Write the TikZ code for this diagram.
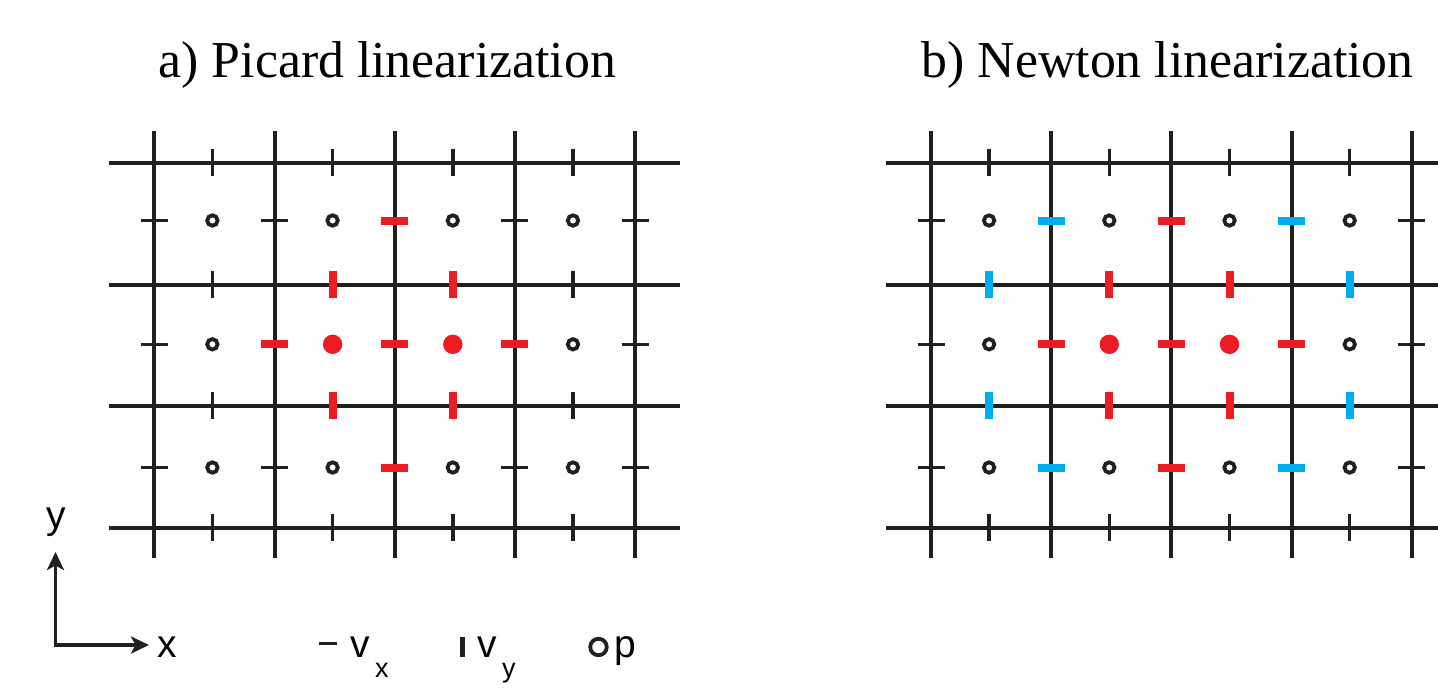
\documentclass[tikz,border=0pt]{standalone}
\usepackage{fontspec}
\setmainfont{Liberation Serif}
\newfontfamily\legfont{Liberation Sans}
\usetikzlibrary{arrows.meta}
\definecolor{ink}{HTML}{231F20}
\definecolor{hotred}{HTML}{ED1C24}
\definecolor{skyblue}{HTML}{00AEEF}
\begin{document}
\begin{tikzpicture}[x=1pt,y=-1pt,
  gridline/.style={ink,line width=4pt},
  tick-k/.style={ink,line width=3.4pt},
  tick-r/.style={hotred,line width=8pt},
  tick-b/.style={skyblue,line width=8pt},
  pk/.style={ink,line width=3.8pt},
  pr/.style={hotred,fill=hotred},
  title/.style={anchor=base west,inner sep=0pt,font=\fontsize{51.8}{60}\selectfont},
  leg/.style={anchor=base west,inner sep=0pt,font=\legfont\fontsize{39}{44}\selectfont},
  legsub/.style={anchor=base west,inner sep=0pt,font=\legfont\fontsize{27}{32}\selectfont},
  axis/.style={ink,line width=3.2pt,{Stealth[length=18pt,width=17pt,inset=4.5pt]}-{Stealth[length=18pt,width=17pt,inset=4.5pt]}}
]
\useasboundingbox (0,0) rectangle (1438,694);
\fill[white] (0,0) rectangle (1438,694);

% titles
\node[title] (ta) at (158.5,77) {a) Picard linearization};
\node[title] (tb) at (921.5,77) {b) Newton linearization};

% ---------- panel a ----------
\begin{scope}
\foreach \j in {0,...,3} {
  \pgfmathsetmacro\yy{162.7+121.8*\j}
  \draw[gridline] (109.3,\yy) -- (680,\yy);
}
\foreach \i in {0,...,4} {
  \pgfmathsetmacro\xx{154.3+120.2*\i}
  \draw[gridline] (\xx,131) -- (\xx,558);
}
% v_x markers
\foreach \i/\r/\c in {0/0/k,1/0/k,2/0/r,3/0/k,4/0/k,
                      0/1/k,1/1/r,2/1/r,3/1/r,4/1/k,
                      0/2/k,1/2/k,2/2/r,3/2/k,4/2/k} {
  \pgfmathsetmacro\xx{154.3+120.2*\i}
  \pgfmathsetmacro\yy{{220.5,344.3,467.5}[\r]}
  \draw[tick-\c] (\xx-13.5,\yy) -- (\xx+13.5,\yy);
}
% v_y markers
\foreach \i/\j/\c in {0/0/k,1/0/k,2/0/k,3/0/k,
                      0/1/k,1/1/r,2/1/r,3/1/k,
                      0/2/k,1/2/r,2/2/r,3/2/k,
                      0/3/k,1/3/k,2/3/k,3/3/k} {
  \pgfmathsetmacro\xx{212.4+120.2*\i}
  \pgfmathsetmacro\yy{162.2+121.8*\j}
  \draw[tick-\c] (\xx,\yy-13.5) -- (\xx,\yy+13.5);
}
% p markers
\foreach \i/\r in {0/0,1/0,2/0,3/0,0/1,3/1,0/2,1/2,2/2,3/2} {
  \pgfmathsetmacro\xx{212.4+120.2*\i}
  \pgfmathsetmacro\yy{{220.5,344.3,467.5}[\r]}
  \draw[pk] (\xx,\yy) circle[radius=5.2];
}
\foreach \i in {1,2} {
  \pgfmathsetmacro\xx{212.4+120.2*\i}
  \fill[pr] (\xx,344.3) circle[radius=9.7];
}
\end{scope}

% ---------- panel b ----------
\begin{scope}[xshift=776.7pt]
\foreach \j in {0,...,3} {
  \pgfmathsetmacro\yy{162.7+121.8*\j}
  \draw[gridline] (109.3,\yy) -- (700,\yy);
}
\foreach \i in {0,...,4} {
  \pgfmathsetmacro\xx{154.3+120.2*\i}
  \draw[gridline] (\xx,131) -- (\xx,558);
}
\foreach \i/\r/\c in {0/0/k,1/0/b,2/0/r,3/0/b,4/0/k,
                      0/1/k,1/1/r,2/1/r,3/1/r,4/1/k,
                      0/2/k,1/2/b,2/2/r,3/2/b,4/2/k} {
  \pgfmathsetmacro\xx{154.3+120.2*\i}
  \pgfmathsetmacro\yy{{220.5,344.3,467.5}[\r]}
  \draw[tick-\c] (\xx-13.5,\yy) -- (\xx+13.5,\yy);
}
\foreach \i/\j/\c in {0/0/k,1/0/k,2/0/k,3/0/k,
                      0/1/b,1/1/r,2/1/r,3/1/b,
                      0/2/b,1/2/r,2/2/r,3/2/b,
                      0/3/k,1/3/k,2/3/k,3/3/k} {
  \pgfmathsetmacro\xx{212.4+120.2*\i}
  \pgfmathsetmacro\yy{162.2+121.8*\j}
  \draw[tick-\c] (\xx,\yy-13.5) -- (\xx,\yy+13.5);
}
\foreach \i/\r in {0/0,1/0,2/0,3/0,0/1,3/1,0/2,1/2,2/2,3/2} {
  \pgfmathsetmacro\xx{212.4+120.2*\i}
  \pgfmathsetmacro\yy{{220.5,344.3,467.5}[\r]}
  \draw[pk] (\xx,\yy) circle[radius=5.2];
}
\foreach \i in {1,2} {
  \pgfmathsetmacro\xx{212.4+120.2*\i}
  \fill[pr] (\xx,344.3) circle[radius=9.7];
}
\end{scope}

% ---------- axes legend ----------
\coordinate (ytip) at (55.5,552);
\coordinate (orig) at (55.5,645);
\coordinate (xtip) at (149,645);
\draw[axis] (ytip) -- (orig) -- (xtip);
\node[leg,anchor=base] (ylab) at (56,528) {y};
\node[leg] (xlab) at (157.5,657) {x};

% ---------- marker legend ----------
\coordinate (dashA) at (319,643.5);
\coordinate (dashB) at (337,643.5);
\draw[ink,line width=3.8pt] (dashA) -- (dashB);
\node[leg] (vx) at (350,657) {v};
\node[legsub] (vxs) at (375,677) {x};

\coordinate (barA) at (462.5,637);
\coordinate (barB) at (462.5,657);
\draw[ink,line width=4.2pt] (barA) -- (barB);
\node[leg] (vy) at (477.5,657) {v};
\node[legsub] (vys) at (502,677) {y};

\node[draw=ink,line width=3.8pt,circle,minimum size=16.5pt,inner sep=0pt] (pcirc) at (598.5,647) {};
\node[leg] (plab) at (614,657) {p};
\end{tikzpicture}
\end{document}
